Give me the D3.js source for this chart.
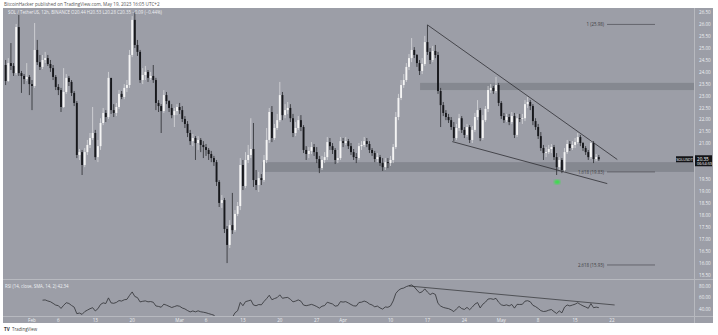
<!DOCTYPE html>
<html>
<head>
<meta charset="utf-8">
<script src="https://cdn.jsdelivr.net/npm/d3@7"></script>
<style>
  body { margin: 0; background: #fff; }
  svg { display: block; font-family: "Open Sans", Roboto, sans-serif; }
</style>
</head>
<body>
<script>
// SOL / TetherUS 12h candles, first candle 27 Jan 2023 00:00 UTC
const startTime = Date.UTC(2023, 0, 27, 0, 0)
const firstOpen = 24.30

const closes = [
  23.63, 24.38, 24.26, 23.96, 25.89, 23.96, 23.84, 23.71, 23.80, 23.50,
  23.42, 24.93, 24.42, 24.22, 24.51, 24.59, 24.34, 24.17, 23.80, 23.38,
  23.25, 22.54, 23.17, 23.76, 23.59, 23.13, 22.71, 20.53, 20.65, 20.11,
  20.65, 20.95, 21.24, 21.45, 20.44, 20.90, 21.87, 22.29, 22.12, 23.76,
  22.41, 22.29, 22.54, 23.09, 22.96, 23.34, 23.46, 24.72, 26.19, 25.14,
  24.85, 23.67, 23.88, 24.01, 23.76, 23.84, 23.67, 22.71, 22.58, 22.37,
  23.04, 22.79, 22.50, 22.20, 22.37, 22.54, 22.41, 22.04, 21.83, 21.45,
  21.11, 21.24, 21.03, 21.16, 20.95, 20.86, 20.74, 20.57, 20.40, 20.23,
  19.40, 18.52, 18.64, 17.43, 16.76, 17.59, 17.38, 18.06, 18.39, 20.11,
  19.23, 20.32, 20.53, 20.78, 19.48, 19.27, 19.56, 19.48, 20.32, 21.16,
  22.33, 21.24, 21.66, 21.99, 23.04, 22.20, 22.41, 22.50, 22.07, 21.45,
  21.66, 21.99, 21.70, 20.74, 20.57, 20.70, 20.86, 20.65, 20.36, 19.98,
  20.32, 20.44, 21.07, 20.90, 20.74, 20.32, 20.40, 21.11, 21.03, 21.11,
  20.90, 20.65, 20.44, 20.40, 20.90, 20.95, 21.11, 20.99, 20.74, 20.61,
  20.36, 20.44, 20.19, 20.02, 20.23, 20.19, 20.32, 20.86, 22.12, 22.92,
  23.46, 23.67, 24.22, 24.59, 24.93, 24.72, 24.38, 24.05, 24.34, 25.26,
  24.85, 24.51, 24.89, 24.72, 23.21, 22.62, 22.29, 22.12, 21.99, 21.70,
  21.24, 21.66, 22.07, 21.58, 21.37, 21.70, 21.16, 21.58, 22.12, 22.41,
  21.24, 21.99, 22.46, 23.25, 23.34, 23.21, 23.46, 22.71, 22.16, 21.99,
  22.12, 21.91, 22.16, 21.37, 22.07, 22.04, 22.07, 22.66, 22.75, 22.58,
  21.95, 21.70, 21.32, 20.82, 20.61, 20.65, 20.78, 20.86, 20.44, 20.02,
  20.32, 19.90, 20.65, 20.99, 20.82, 20.95, 21.07, 21.28, 21.03, 20.82,
  20.65, 20.44, 21.03, 20.36, 20.44, 20.35
]

const highs = [
  24.51, 24.59, 25.22, 24.38, 26.02, 26.40, 24.05, 23.92, 24.38, 23.88,
  23.67, 26.06, 25.35, 24.72, 24.72, 24.85, 24.72, 24.51, 24.30, 23.88,
  23.50, 23.34, 24.17, 23.92, 23.84, 23.67, 23.21, 22.79, 20.78, 20.74,
  20.82, 21.16, 21.45, 22.54, 21.58, 21.16, 22.07, 22.50, 22.41, 24.01,
  23.59, 22.66, 22.71, 23.25, 23.21, 23.50, 23.67, 24.93, 26.35, 26.52,
  25.35, 24.93, 24.17, 24.26, 24.09, 24.01, 24.30, 23.76, 22.83, 22.66,
  23.25, 23.17, 22.83, 22.66, 22.50, 22.66, 22.71, 22.58, 22.16, 21.95,
  21.58, 21.41, 21.32, 21.32, 21.24, 21.11, 20.99, 20.82, 20.70, 20.49,
  20.32, 19.48, 18.85, 18.73, 17.55, 17.80, 18.94, 18.22, 18.56, 20.40,
  20.32, 20.65, 20.95, 22.07, 21.87, 19.90, 19.82, 19.73, 20.53, 21.66,
  22.50, 22.58, 21.83, 22.25, 23.59, 23.17, 22.66, 22.75, 22.66, 22.25,
  21.91, 22.16, 22.20, 21.78, 20.90, 20.86, 21.07, 20.99, 20.86, 20.49,
  20.49, 20.65, 21.28, 21.24, 21.03, 20.82, 20.74, 21.28, 21.24, 21.28,
  21.20, 21.03, 20.78, 20.61, 21.03, 21.11, 21.28, 21.24, 21.11, 20.82,
  20.70, 20.61, 20.53, 20.40, 20.40, 20.40, 20.49, 20.99, 22.33, 23.09,
  23.67, 23.92, 24.38, 24.76, 25.43, 25.05, 24.76, 24.51, 24.59, 25.52,
  25.98, 25.01, 25.10, 25.14, 24.85, 23.34, 22.75, 22.41, 22.25, 22.12,
  21.91, 21.83, 22.25, 22.16, 21.70, 21.83, 21.78, 21.74, 22.29, 22.83,
  22.50, 22.20, 22.58, 23.42, 23.50, 23.42, 23.80, 23.55, 22.79, 22.29,
  22.25, 22.25, 22.33, 22.29, 22.25, 22.25, 22.25, 22.83, 22.96, 22.83,
  22.66, 22.07, 21.83, 21.49, 20.95, 20.86, 20.95, 20.99, 20.95, 20.61,
  20.44, 20.40, 20.82, 21.16, 21.11, 21.11, 21.24, 21.45, 21.37, 21.07,
  20.90, 20.74, 21.16, 21.11, 20.57, 20.53
]

const lows = [
  23.46, 23.59, 24.09, 23.84, 23.88, 23.84, 23.13, 23.50, 23.63, 23.04,
  22.41, 23.34, 24.30, 24.09, 24.13, 24.38, 24.26, 24.01, 23.67, 23.25,
  23.04, 22.33, 22.50, 23.09, 23.42, 23.00, 22.58, 20.40, 20.32, 19.69,
  20.02, 20.53, 20.82, 21.16, 20.32, 20.23, 20.74, 21.78, 21.91, 22.04,
  22.25, 22.12, 22.16, 22.46, 22.87, 22.87, 23.17, 23.34, 24.63, 25.01,
  24.68, 23.55, 23.50, 23.67, 23.59, 23.67, 23.55, 22.41, 22.33, 21.45,
  22.29, 22.66, 22.33, 22.07, 21.70, 22.20, 22.25, 21.91, 21.66, 21.28,
  20.95, 20.90, 20.32, 20.74, 20.65, 20.40, 20.49, 20.32, 20.23, 20.07,
  19.23, 18.35, 18.31, 17.26, 16.00, 16.63, 17.22, 17.30, 17.97, 18.22,
  19.06, 19.14, 20.19, 20.40, 19.19, 19.06, 18.98, 19.27, 19.40, 20.19,
  21.03, 21.07, 21.16, 21.58, 21.91, 21.99, 22.07, 22.25, 21.91, 21.28,
  21.32, 21.58, 21.53, 20.61, 20.32, 20.40, 20.57, 20.49, 20.19, 19.77,
  19.90, 20.19, 20.32, 20.74, 20.57, 20.15, 20.19, 20.32, 20.86, 20.95,
  20.78, 20.53, 20.32, 20.19, 20.32, 20.74, 20.86, 20.86, 20.61, 20.49,
  20.23, 20.23, 20.07, 19.86, 19.90, 19.98, 20.07, 20.19, 20.78, 21.99,
  22.83, 23.34, 23.59, 24.09, 24.42, 24.59, 24.22, 23.88, 23.92, 24.26,
  24.72, 24.34, 24.42, 24.59, 23.09, 21.70, 22.16, 21.99, 21.87, 21.58,
  21.11, 21.16, 21.53, 21.45, 21.24, 21.28, 21.03, 21.03, 21.49, 21.99,
  21.11, 21.16, 21.91, 22.33, 23.13, 23.09, 23.13, 22.58, 22.04, 21.87,
  21.91, 21.78, 21.83, 21.24, 21.28, 21.91, 21.83, 21.95, 22.50, 22.41,
  21.78, 21.58, 21.20, 20.70, 20.32, 20.44, 20.57, 20.61, 20.32, 19.69,
  19.90, 19.77, 19.82, 20.57, 20.70, 20.74, 20.82, 20.99, 20.90, 20.70,
  20.53, 20.32, 20.36, 20.19, 20.28, 20.28
]

// axis ticks
const timeTicks = ["2023-02-01", "2023-02-06", "2023-02-13", "2023-02-20", "2023-03-01", "2023-03-06",
  "2023-03-13", "2023-03-20", "2023-03-27", "2023-04-01", "2023-04-10", "2023-04-17", "2023-04-24",
  "2023-05-01", "2023-05-08", "2023-05-15", "2023-05-22"]
const timeTickLabels = ["Feb", "6", "13", "20", "Mar", "6", "13", "20", "27", "Apr", "10", "17", "24", "May", "8", "15", "22"]
const priceTicks = [26.5, 26, 25.5, 25, 24.5, 24, 23.5, 23, 22.5, 22, 21.5, 21, 19.5, 19, 18.5, 18, 17.5, 17, 16.5, 16, 15.5]
const rsiTicks = [80, 60, 40]

// drawings (candle index, price)
const upperTrend = [[160, 25.98], [232, 20.34]]
const lowerTrend = [[169.4, 21.09], [228.2, 19.33]]
const resistanceZone = [157.2, 23.55, 23.25]
const supportZone = [97.3, 20.23, 19.82]
const fibLevels = [[26.0, "1 (25.98)"], [19.82, "1.618 (19.83)"], [15.92, "2.618 (15.93)"]]
const greenMark = [209.2, 19.40]
const rsiTrend = [[153, 80], [231, 47]]

const lastPrice = 20.35

let width = 718
let height = 335
let plotLeft = 3, plotRight = 694
let mainTop = 8, mainBottom = 279
let rsiTop = 280, rsiBottom = 316

const bg = "#9c9ea7"

const candles = closes.map((c, i) => ({
  t: new Date(startTime + i * 12 * 3600 * 1000),
  o: i === 0 ? firstOpen : closes[i - 1],
  h: highs[i], l: lows[i], c: c, i: i
}))

const x = d3.scaleUtc()
  .domain([new Date("2023-02-01T00:00Z"), new Date("2023-05-22T00:00Z")])
  .range([32, 612])
const xi = i => x(new Date(startTime + i * 12 * 3600 * 1000))

const y = d3.scaleLinear().domain([15.5, 26.5]).range([275, 12.5])
const yr = d3.scaleLinear().domain([20, 80]).range([320.5, 286])

const svg = d3.select("body").append("svg")
  .attr("width", width).attr("height", height)

svg.append("rect").attr("width", width).attr("height", height).attr("fill", "#fff")
svg.append("rect").attr("x", plotLeft).attr("y", mainTop)
  .attr("width", 710).attr("height", rsiBottom + 7 - mainTop).attr("fill", bg)

const defs = svg.append("defs")
defs.append("clipPath").attr("id", "clipMain").append("rect")
  .attr("x", plotLeft).attr("y", mainTop).attr("width", plotRight - plotLeft).attr("height", mainBottom - mainTop)
defs.append("clipPath").attr("id", "clipRsi").append("rect")
  .attr("x", plotLeft).attr("y", rsiTop).attr("width", plotRight - plotLeft).attr("height", rsiBottom - rsiTop)
const glow = defs.append("filter").attr("id", "glow")
glow.append("feGaussianBlur").attr("stdDeviation", 1.2)

// header
svg.append("text").attr("x", 4).attr("y", 5.5)
  .attr("font-size", 4.6).attr("fill", "#555")
  .text("BitcoinHacker published on TradingView.com, May 19, 2023 16:05 UTC+2")

// pane separators
svg.append("line").attr("x1", plotLeft).attr("x2", 713).attr("y1", mainBottom + 0.5).attr("y2", mainBottom + 0.5)
  .attr("stroke", "#b7b9bf").attr("stroke-width", 1)
svg.append("line").attr("x1", plotLeft).attr("x2", 713).attr("y1", rsiBottom + 0.5).attr("y2", rsiBottom + 0.5)
  .attr("stroke", "#b7b9bf").attr("stroke-width", 1)
svg.append("line").attr("x1", plotRight + 0.5).attr("x2", plotRight + 0.5).attr("y1", mainTop).attr("y2", rsiBottom + 7)
  .attr("stroke", "#b7b9bf").attr("stroke-width", 1)

const main = svg.append("g").attr("clip-path", "url(#clipMain)")

// zones
main.append("rect")
  .attr("x", xi(resistanceZone[0])).attr("y", y(resistanceZone[1]))
  .attr("width", plotRight - xi(resistanceZone[0])).attr("height", y(resistanceZone[2]) - y(resistanceZone[1]))
  .attr("fill", "#7e8088").attr("opacity", 0.75)
main.append("rect")
  .attr("x", xi(supportZone[0])).attr("y", y(supportZone[1]))
  .attr("width", plotRight - xi(supportZone[0])).attr("height", y(supportZone[2]) - y(supportZone[1]))
  .attr("fill", "#7e8088").attr("opacity", 0.75)

// candles
const candleW = 1.9
main.selectAll("line.wick").data(candles).enter().append("line")
  .attr("class", "wick")
  .attr("x1", d => xi(d.i)).attr("x2", d => xi(d.i))
  .attr("y1", d => y(d.h)).attr("y2", d => y(d.l))
  .attr("stroke", d => d.c >= d.o ? "#d8d9dc" : "#2a2b2f").attr("stroke-width", 0.8)

main.selectAll("rect.body").data(candles).enter().append("rect")
  .attr("class", "body")
  .attr("x", d => xi(d.i) - candleW / 2)
  .attr("y", d => y(Math.max(d.o, d.c)))
  .attr("width", candleW)
  .attr("height", d => Math.max(0.8, Math.abs(y(d.o) - y(d.c))))
  .attr("fill", d => d.c >= d.o ? "#f4f4f4" : "#17181c")

// wedge lines
const trendLine = d3.line().x(d => xi(d[0])).y(d => y(d[1]))
main.append("path").attr("d", trendLine(upperTrend)).attr("fill", "none").attr("stroke", "#2e2f33").attr("stroke-width", 0.8)
main.append("path").attr("d", trendLine(lowerTrend)).attr("fill", "none").attr("stroke", "#2e2f33").attr("stroke-width", 0.8)

// fib levels
fibLevels.forEach(f => {
  main.append("line").attr("x1", 607).attr("x2", 655)
    .attr("y1", y(f[0])).attr("y2", y(f[0]))
    .attr("stroke", "#55575d").attr("stroke-width", 0.8)
  main.append("text").attr("x", 604).attr("y", y(f[0]) + 1.6)
    .attr("text-anchor", "end").attr("font-size", 4.4).attr("fill", "#3c3d42")
    .text(f[1])
})

// green marker
main.append("ellipse").attr("cx", xi(greenMark[0])).attr("cy", y(greenMark[1]))
  .attr("rx", 3).attr("ry", 2.2).attr("fill", "#39e04a").attr("filter", "url(#glow)")

// legend
svg.append("text").attr("x", 8).attr("y", 14)
  .attr("font-size", 4.4).attr("fill", "#eef0f3")
  .text("SOL / TetherUS, 12h, BINANCE   O20.44  H20.53  L20.28  C20.35  \u22120.09 (\u22120.44%)")

// price axis
svg.append("g").selectAll("text").data(priceTicks).enter().append("text")
  .attr("x", 699).attr("y", d => y(d) + 1.6)
  .attr("font-size", 4.6).attr("fill", "#eef0f3")
  .text(d => d.toFixed(2))

svg.append("rect").attr("x", 676).attr("y", y(lastPrice) - 3).attr("width", 17).attr("height", 6).attr("fill", "#131417")
svg.append("text").attr("x", 684.5).attr("y", y(lastPrice) + 1.5).attr("text-anchor", "middle")
  .attr("font-size", 3.8).attr("fill", "#fff").text("SOLUSDT")
svg.append("rect").attr("x", 695).attr("y", y(lastPrice) - 4).attr("width", 17).attr("height", 11).attr("fill", "#131417")
svg.append("text").attr("x", 697).attr("y", y(lastPrice) + 1.5)
  .attr("font-size", 4.6).attr("fill", "#fff").text(lastPrice.toFixed(2))
svg.append("text").attr("x", 697).attr("y", y(lastPrice) + 6)
  .attr("font-size", 3.8).attr("fill", "#fff").text("06:54:59")

// RSI (14) from the closes, Wilder smoothing
let rsi = []
let ag = 0, al = 0
for (let i = 1; i < closes.length; i++) {
  let d = closes[i] - closes[i - 1]
  let g = Math.max(d, 0), l = Math.max(-d, 0)
  if (i <= 14) {
    ag += g / 14; al += l / 14
    if (i === 14) rsi.push([i, 100 - 100 / (1 + ag / al)])
  } else {
    ag = (ag * 13 + g) / 14
    al = (al * 13 + l) / 14
    rsi.push([i, 100 - 100 / (1 + ag / al)])
  }
}

const rsiG = svg.append("g").attr("clip-path", "url(#clipRsi)")
rsiG.append("path")
  .attr("d", d3.line().x(d => xi(d[0])).y(d => yr(d[1]))(rsi))
  .attr("fill", "none").attr("stroke", "#2f3034").attr("stroke-width", 0.8)
rsiG.append("path")
  .attr("d", d3.line().x(d => xi(d[0])).y(d => yr(d[1]))(rsiTrend))
  .attr("fill", "none").attr("stroke", "#2f3034").attr("stroke-width", 0.7)

svg.append("text").attr("x", 5).attr("y", 288)
  .attr("font-size", 4.4).attr("fill", "#eef0f3")
  .text("RSI (14, close, SMA, 14, 2)  " + rsi[rsi.length - 1][1].toFixed(2))

svg.append("g").selectAll("text").data(rsiTicks).enter().append("text")
  .attr("x", 699).attr("y", d => yr(d) + 1.6)
  .attr("font-size", 4.6).attr("fill", "#eef0f3")
  .text(d => d.toFixed(2))

// time axis
svg.append("g").selectAll("text").data(timeTicks).enter().append("text")
  .attr("x", d => x(new Date(d + "T00:00Z")))
  .attr("y", 321.5).attr("text-anchor", "middle")
  .attr("font-size", 4.6).attr("fill", "#eef0f3")
  .text((d, i) => timeTickLabels[i])

// footer
svg.append("text").attr("x", 4).attr("y", 331)
  .attr("font-size", 4.6).attr("fill", "#333").attr("font-weight", "bold").text("TV")
svg.append("text").attr("x", 12).attr("y", 331)
  .attr("font-size", 4.4).attr("fill", "#444").text("TradingView")
</script>
</body>
</html>
